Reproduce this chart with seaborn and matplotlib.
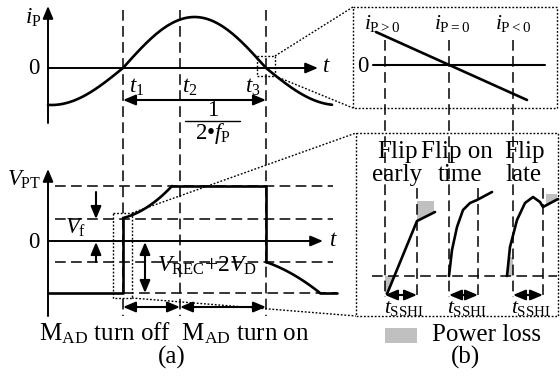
import numpy as np
import pandas as pd
import matplotlib
matplotlib.use("Agg")
import matplotlib.pyplot as plt
from matplotlib.patches import FancyArrowPatch, Polygon, Rectangle
import seaborn as sns

sns.set_style("white")
plt.rcParams["font.family"] = ["Liberation Serif", "DejaVu Serif"]
plt.rcParams["mathtext.fontset"] = "custom"
plt.rcParams["mathtext.rm"] = "Liberation Serif"
plt.rcParams["mathtext.it"] = "Liberation Serif:italic"
plt.rcParams["mathtext.bf"] = "Liberation Serif:bold"

# ---------------- diagram data (canvas units, y grows downward) ----------------
# time instants t1, t2, t3 shared by both waveforms of panel (a)
t_marks = [123, 180, 266]
t_labels = ["$t_1$", "$t_2$", "$t_3$"]
t_label_x = [137, 190, 253]

# primary current i_P
ip_axis_x = 48
ip_zero = 68
ip_peak = 17
ip_valley = 105
ip_span = [48, 332]

# V_PT levels: top plateau, +V_f, zero, -V_f, bottom plateau
vpt_levels = [186, 219, 241, 262, 293]
vpt_rise = [123, 172]      # rising edge after the flip
vpt_fall = [266, 320]      # falling edge after turn-on ends
vpt_end = 337

# panel (b): flip instants and end of the SSHI interval
flip_starts = [385, 449, 513]
flip_ends = [417, 478, 543]
flip_titles = [("Flip", "early"), ("Flip on", "time"), ("Flip", "late")]
flip_title_x = [(397, 397), (457, 460), (524, 524)]
flip_ref_level = 276
ip_zoom_labels = [r"$i_{\mathrm{P}>0}$", r"$i_{\mathrm{P}=0}$", r"$i_{\mathrm{P}<0}$"]
ip_zoom_label_x = [382, 452, 513]

# waveform samples of the three flip cases
early_x = [387, 417, 435]
early_y = [294, 221, 212]
ontime_x = [449, 452, 457, 463, 470, 477, 492]
ontime_y = [276, 250, 227, 210, 203, 200, 192]
late_x = [507, 510, 517, 525, 533, 540, 543, 558]
late_y = [276, 247, 220, 203, 197, 202, 207, 199]

LOSS = "#c0c0c0"
K = "black"

fig = plt.figure(figsize=(5.6, 3.76), dpi=100)
ax = fig.add_axes([0, 0, 1, 1])
ax.set_xlim(0, 560)
ax.set_ylim(376, 0)
ax.axis("off")

DASH = (0, (7, 3.5))
DOT = (0, (1.3, 1.3))
FS_LBL = 16.5
FS_CAP = 18


def curve(xs, ys, lw=1.9):
    df = pd.DataFrame({"x": xs, "y": ys})
    sns.lineplot(data=df, x="x", y="y", ax=ax, color=K, linewidth=lw,
                 sort=False, estimator=None, legend=False)


def arrow(p0, p1, both=False, lw=1.5):
    style = "<|-|>" if both else "-|>"
    style += ",head_length=0.62,head_width=0.26"
    ax.add_patch(FancyArrowPatch(p0, p1, arrowstyle=style, mutation_scale=12,
                                 color=K, lw=lw, shrinkA=0, shrinkB=0))


def dashed(xs, ys, lw=1.1):
    ax.plot(xs, ys, color=K, lw=lw, linestyle=DASH)


def dotted(xs, ys, lw=1.0):
    ax.plot(xs, ys, color=K, lw=lw, linestyle=DOT)


def label(x, y, s, size=FS_LBL, ha="center", va="center"):
    ax.text(x, y, s, fontsize=size, ha=ha, va=va, color=K)


# ---------------- panel (a), top: i_P ----------------
arrow((ip_axis_x, 123), (ip_axis_x, 6), lw=1.4)
arrow((ip_axis_x, ip_zero), (318, ip_zero), lw=1.4)
label(33, 18, r"$i_\mathrm{P}$")
label(34, 69, "0")
label(326, 67, "$t$")

half = t_marks[2] - t_marks[0]
xs = np.linspace(ip_span[0], ip_span[1], 400)
phase = np.sin(np.pi * (xs - t_marks[0]) / half)
amp = np.where(phase >= 0, ip_zero - ip_peak, ip_valley - ip_zero)
curve(xs, ip_zero - amp * phase)

for x in t_marks:
    dashed([x, x], [10, 316])
for x, s in zip(t_label_x, t_labels):
    label(x, 87, s)

arrow((t_marks[0], 100), (t_marks[2], 100), both=True)
label(213, 111, "1", size=FS_LBL)
ax.plot([185, 240], [121, 121], color=K, lw=1.0)
label(213, 133, r"$\mathrm{2•}f_\mathrm{P}$", size=FS_LBL)

# zoom window around t3
ax.add_patch(Rectangle((257, 56), 18, 20, fill=False, ec=K, lw=1.0, linestyle=DOT))
dotted([275, 353], [56, 7])
dotted([275, 353], [76, 108])

# ---------------- panel (a), bottom: V_PT ----------------
top, vf, zero, nvf, bot = vpt_levels
arrow((ip_axis_x, 316), (ip_axis_x, 169), lw=1.4)
arrow((ip_axis_x, zero), (323, zero), lw=1.4)
label(24, 180, r"$V_\mathrm{PT}$")
label(34, 242, "0")
label(333, 240, "$t$")

dashed([55, 333], [top, top])
dashed([55, 333], [vf, vf])
dashed([55, 333], [nvf, nvf])
dashed([123, 337], [bot, bot])

# V_PT waveform
curve([ip_axis_x, vpt_rise[0], vpt_rise[0]], [bot, bot, vf - 1])
d = np.linspace(0, vpt_rise[1] - vpt_rise[0], 60)
b_rise = ((vf - 1 - top) - 0.25 * d[-1]) / d[-1] ** 2
curve(vpt_rise[0] + d, (vf - 1) - 0.25 * d - b_rise * d ** 2)
curve([vpt_rise[1], vpt_fall[0], vpt_fall[0]], [top, top, nvf])
d = np.linspace(0, vpt_fall[1] - vpt_fall[0], 60)
b_fall = ((bot - nvf) - 0.35 * d[-1]) / d[-1] ** 2
curve(vpt_fall[0] + d, nvf + 0.35 * d + b_fall * d ** 2)
curve([vpt_fall[1], vpt_end], [bot, bot])

# V_f markers and V_REC + 2V_D span
arrow((96, 192), (96, vf))
arrow((96, nvf), (96, zero + 1))
label(76, 228, r"$V_\mathrm{f}$")
arrow((145, zero + 1), (145, bot), both=True)
label(207, 266, r"$V_\mathrm{REC}\mathrm{+2}V_\mathrm{D}$", size=17)

# turn-off / turn-on intervals
arrow((t_marks[0], 307), (t_marks[1], 307), both=True)
arrow((t_marks[1], 307), (t_marks[2], 307), both=True)
label(174, 333, r"$\mathrm{M_{AD}}$ turn off  $\mathrm{M_{AD}}$ turn on", size=FS_CAP)
label(172, 357, "(a)", size=FS_CAP)

# zoom window around the flip
ax.add_patch(Rectangle((113, 213), 19, 85, fill=False, ec=K, lw=1.0, linestyle=DOT))
dotted([132, 356], [213, 133])
dotted([132, 356], [298, 316])

# ---------------- panel (b), top: i_P near zero crossing ----------------
ax.add_patch(Rectangle((353, 7), 204, 101, fill=False, ec=K, lw=1.0, linestyle=DOT))
ax.plot([373, 545], [65, 65], color=K, lw=1.5)
label(363, 67, "0")
ax.plot([376, 527], [32, 100], color=K, lw=1.9)
for x, s in zip(ip_zoom_label_x, ip_zoom_labels):
    label(x, 24, s, size=15.5)

# ---------------- panel (b), bottom: three flip cases ----------------
ax.add_patch(Rectangle((356, 133), 202, 183, fill=False, ec=K, lw=1.0, linestyle=DOT))
for x in flip_starts:
    dashed([x, x], [40, 297])
for x in flip_ends:
    dashed([x, x], [188, 297])
dashed([372, 557], [flip_ref_level, flip_ref_level])

for (l1, l2), (x1, x2) in zip(flip_titles, flip_title_x):
    label(x1, 152, l1, size=FS_CAP)
    label(x2, 175, l2, size=FS_CAP)

# power-loss areas
ax.add_patch(Polygon([(385, 276), (394.4, 276), (387, 294), (385, 294)],
                     closed=True, fc=LOSS, ec="none"))
ax.add_patch(Polygon([(417, 201), (434, 201), (434, 212.5), (417, 221)],
                     closed=True, fc=LOSS, ec="none"))
ax.add_patch(Polygon([(507, 276), (513, 276), (513, 257), (509, 257)],
                     closed=True, fc=LOSS, ec="none"))
ax.add_patch(Polygon([(546, 194), (557, 194), (557, 199.6), (546, 205.4)],
                     closed=True, fc=LOSS, ec="none"))

curve(early_x, early_y)
curve(ontime_x, ontime_y)
curve(late_x, late_y)

for x0, x1 in zip(flip_starts, flip_ends):
    arrow((x0, 295), (x1, 295), both=True)
    label((x0 + x1) / 2 + 3, 308, r"$t_\mathrm{SSHI}$", size=15.5)

# legend
ax.add_patch(Rectangle((385, 328), 32, 15, fc=LOSS, ec="none"))
label(432, 335, "Power loss", size=FS_CAP, ha="left")
label(465, 357, "(b)", size=FS_CAP)

fig.savefig("out.png", dpi=100)
